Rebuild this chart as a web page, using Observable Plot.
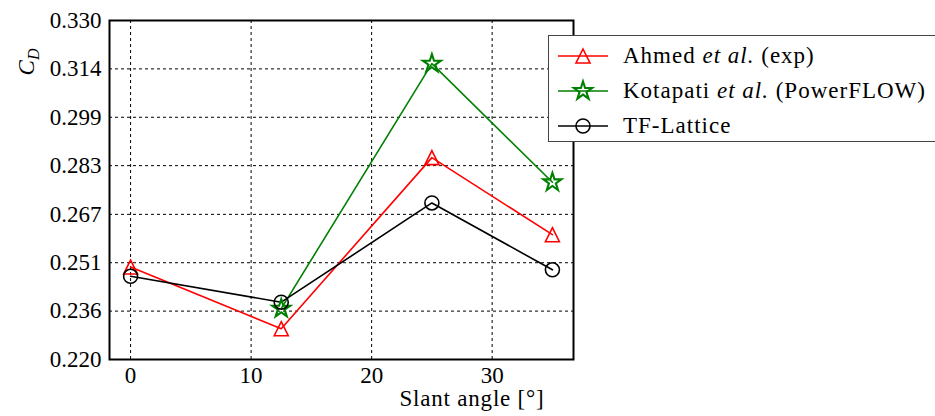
<!DOCTYPE html>
<html>
<head>
<meta charset="utf-8">
<script src="https://cdn.jsdelivr.net/npm/d3@7"></script>
<script src="https://cdn.jsdelivr.net/npm/@observablehq/plot@0.6"></script>
<style>
  html, body { margin: 0; padding: 0; background: #fff; }
  #wrap { position: relative; width: 935px; height: 416px; overflow: hidden; }
  #legend { position: absolute; left: 548px; top: 35px; width: 420px; height: 107px; border: 1px solid #444; background: #fff; box-sizing: border-box; }
  .row { position: absolute; left: 0; height: 30px; display: flex; align-items: center; white-space: nowrap; color: #000; }
  .row svg { width: 62px; height: 30px; margin-left: 6px; }
  .row span { margin-left: 6px; }
</style>
</head>
<body>
<div id="wrap"></div>
<script>
// ---- data ----
const angles = [0, 12.5, 25, 35];
const ahmedCd = [0.250, 0.230, 0.2855, 0.2605];
const kotapatiAngles = [12.5, 25, 35];
const kotapatiCd = [0.2365, 0.316, 0.2775];
const tfLatticeCd = [0.247, 0.2386, 0.2708, 0.2491];

const xTicks = [0, 10, 20, 30];
const yTickValues = [0.22, 0.2357, 0.2514, 0.2671, 0.2829, 0.2986, 0.3143, 0.33];
const yTickLabels = ["0.220", "0.236", "0.251", "0.267", "0.283", "0.299", "0.314", "0.330"];

const seriesColors = ["#ff0000", "#008000", "#000000"];

// ---- tables ----
const ahmed = angles.map((a, i) => ({x: a, y: ahmedCd[i]}));
const kotapati = kotapatiAngles.map((a, i) => ({x: a, y: kotapatiCd[i]}));
const tf = angles.map((a, i) => ({x: a, y: tfLatticeCd[i]}));

// ---- symbols (matplotlib-like) ----
const triSym = {draw(ctx, size) { const r = Math.sqrt(size / Math.PI); ctx.moveTo(0, -r); ctx.lineTo(r, r); ctx.lineTo(-r, r); ctx.closePath(); }};
const starSym = {draw(ctx, size) {
  const R = Math.sqrt(size / Math.PI), ri = R * 0.381966;
  for (let k = 0; k < 10; k++) {
    const rr = k % 2 ? ri : R, a = -Math.PI / 2 + k * Math.PI / 5;
    const px = rr * Math.cos(a), py = rr * Math.sin(a);
    k ? ctx.lineTo(px, py) : ctx.moveTo(px, py);
  }
  ctx.closePath();
}};
const circSym = {draw(ctx, size) { const r = Math.sqrt(size / Math.PI); ctx.moveTo(r, 0); ctx.arc(0, 0, r, 0, 2 * Math.PI); }};

const FONT = "'Liberation Serif', serif";
const FS = 23;
const chart = Plot.plot({
  width: 935, height: 416,
  marginLeft: 109, marginRight: 362, marginTop: 20, marginBottom: 57,
  style: `font-family: ${FONT}; font-size: ${FS}px; background: white; color: black;`,
  x: {domain: [-1.75, 36.75]},
  y: {domain: [0.22, 0.33]},
  marks: [
    Plot.gridX(xTicks, {stroke: "black", strokeOpacity: 1, strokeWidth: 1, strokeDasharray: "3,3"}),
    Plot.gridY(yTickValues, {stroke: "black", strokeOpacity: 1, strokeWidth: 1, strokeDasharray: "3,3"}),
    Plot.axisX(xTicks, {tickSize: 0, tickPadding: 7, fontSize: FS, fontFamily: FONT, label: null, tickFormat: d => String(d)}),
    Plot.axisY(yTickValues, {tickSize: 0, tickPadding: 8, fontSize: FS, fontFamily: FONT, label: null, tickFormat: (d, i) => yTickLabels[i]}),
    Plot.line(ahmed, {x: "x", y: "y", stroke: seriesColors[0], strokeWidth: 1.6}),
    Plot.line(kotapati, {x: "x", y: "y", stroke: seriesColors[1], strokeWidth: 1.6}),
    Plot.line(tf, {x: "x", y: "y", stroke: seriesColors[2], strokeWidth: 1.6}),
    Plot.dot(ahmed, {x: "x", y: "y", symbol: triSym, r: 7, stroke: seriesColors[0], strokeWidth: 1.6, fill: "none"}),
    Plot.dot(kotapati, {x: "x", y: "y", symbol: starSym, r: 9.5, stroke: seriesColors[1], strokeWidth: 2.1, fill: "none"}),
    Plot.dot(tf, {x: "x", y: "y", symbol: circSym, r: 7, stroke: seriesColors[2], strokeWidth: 1.6, fill: "none"}),
    Plot.frame({stroke: "black", strokeWidth: 2})
  ]
});

const svg = d3.select(chart);
// x label
svg.append("text").attr("x", 472).attr("y", 406).attr("text-anchor", "middle")
  .attr("font-family", FONT).attr("font-size", FS).attr("letter-spacing", "0.8px")
  .attr("fill", "black").text("Slant angle [°]");
// y label C_D
const yl = svg.append("text").attr("transform", "translate(34,62) rotate(-90)")
  .attr("text-anchor", "middle").attr("font-family", FONT).attr("font-size", FS).attr("fill", "black");
yl.append("tspan").attr("font-style", "italic").text("C");
yl.append("tspan").attr("font-style", "italic").attr("font-size", 16).attr("dy", 5).text("D");

const wrap = document.getElementById("wrap");
wrap.appendChild(chart);

// legend
const legend = document.createElement("div");
legend.id = "legend";
const legendItems = [
  {html: "Ahmed <i>et al.</i> (exp)", sym: triSym, r: 7, sw: 1.6},
  {html: "Kotapati <i>et al.</i> (PowerFLOW)", sym: starSym, r: 9.5, sw: 2.1},
  {html: "TF-Lattice", sym: circSym, r: 7, sw: 1.6}
];
legendItems.forEach((it, i) => {
  const row = document.createElement("div");
  row.className = "row";
  row.style.top = (5 + i * 35) + "px";
  row.style.fontFamily = FONT;
  row.style.fontSize = FS + "px";
  row.style.letterSpacing = "1px";
  const path = d3.symbol().type(it.sym).size(Math.PI * it.r * it.r)();
  row.innerHTML = `<svg viewBox="0 0 62 30"><line x1="3" x2="53" y1="15" y2="15" stroke="${seriesColors[i]}" stroke-width="1.6"/>` +
    `<path d="${path}" transform="translate(28,15)" fill="none" stroke="${seriesColors[i]}" stroke-width="${it.sw}"/></svg><span>${it.html}</span>`;
  legend.appendChild(row);
});
wrap.appendChild(legend);
</script>
</body>
</html>
